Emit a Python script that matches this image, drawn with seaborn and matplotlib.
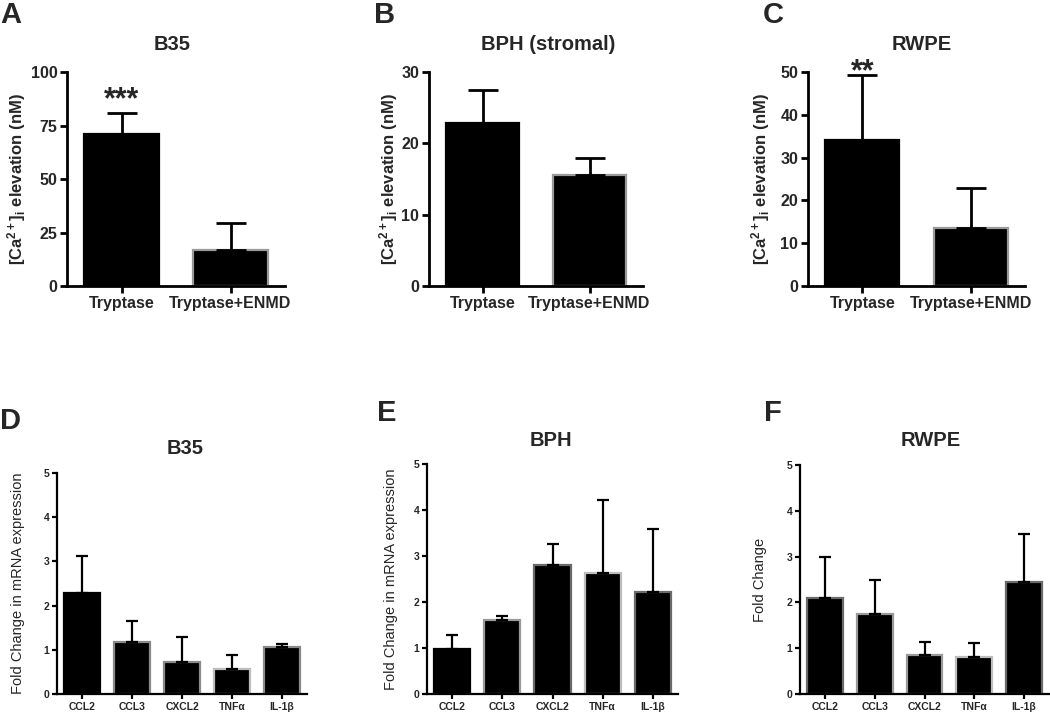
import matplotlib
matplotlib.use("Agg")
import matplotlib.pyplot as plt
import seaborn as sns
import pandas as pd

# ---------------- data ----------------
ca_groups = ["Tryptase", "Tryptase+ENMD"]
ca_b35_mean = [71.0, 17.0]
ca_b35_sem = [10.0, 12.5]
ca_bph_mean = [22.8, 15.5]
ca_bph_sem = [4.7, 2.4]
ca_rwpe_mean = [34.0, 13.5]
ca_rwpe_sem = [15.2, 9.3]

genes = ["CCL2", "CCL3", "CXCL2", "TNFα", "IL-1β"]
fc_b35_mean = [2.28, 1.17, 0.72, 0.57, 1.06]
fc_b35_sem = [0.85, 0.48, 0.56, 0.31, 0.07]
fc_bph_mean = [0.97, 1.60, 2.80, 2.62, 2.22]
fc_bph_sem = [0.31, 0.10, 0.47, 1.60, 1.36]
fc_rwpe_mean = [2.10, 1.75, 0.85, 0.80, 2.45]
fc_rwpe_sem = [0.89, 0.75, 0.28, 0.32, 1.05]

sns.set_theme(style="ticks")
plt.rcParams["font.family"] = ["Liberation Sans", "DejaVu Sans"]
plt.rcParams["font.weight"] = "bold"
plt.rcParams["mathtext.fontset"] = "custom"
plt.rcParams["mathtext.rm"] = "Liberation Sans:bold"
plt.rcParams["mathtext.it"] = "Liberation Sans:bold"
plt.rcParams["mathtext.bf"] = "Liberation Sans:bold"
plt.rcParams["mathtext.default"] = "bf"

W, H = 1050, 717
fig = plt.figure(figsize=(W / 100, H / 100), dpi=100)


def px_axes(l, t, r, b):
    return fig.add_axes([l / W, 1 - b / H, (r - l) / W, (b - t) / H])


def draw(ax, cats, mean, sem, ylim, yticks, width, tick_fs, capsize, lw,
         edgecolors, ylabel, ylab_fs, ylab_weight, ylab_x):
    df = pd.DataFrame({"cat": cats, "val": mean})
    sns.barplot(data=df, x="cat", y="val", order=cats, color="black",
                width=width, errorbar=None, ax=ax, saturation=1)
    for p, ec in zip(ax.patches, edgecolors):
        p.set_facecolor("black")
        p.set_edgecolor(ec)
        p.set_linewidth(1.6)
    ax.errorbar(range(len(cats)), mean, yerr=[[0] * len(cats), sem],
                fmt="none", ecolor="black", elinewidth=lw, capsize=capsize,
                capthick=lw, zorder=1)
    ax.set_ylim(*ylim)
    ax.set_xlim(-0.5, len(cats) - 0.5)
    ax.set_yticks(yticks)
    ax.set_yticklabels([str(v) for v in yticks], fontsize=tick_fs, fontweight="bold")
    ax.set_xticks(range(len(cats)))
    ax.set_xticklabels(cats, fontsize=tick_fs, fontweight="bold")
    ax.set_xlabel("")
    ax.set_ylabel(ylabel, fontsize=ylab_fs, fontweight=ylab_weight)
    ax.yaxis.set_label_coords(ylab_x, 0.5)
    sns.despine(ax=ax)
    for s in ["left", "bottom"]:
        ax.spines[s].set_linewidth(lw)
        ax.spines[s].set_color("black")
    ax.tick_params(axis="both", width=lw, length=5 if tick_fs > 9 else 3.5,
                   color="black", pad=2)


ca_label = r"[Ca$^{2+}$]$_{i}$ elevation (nM)"
ec2 = ["black", "#9a9a9a"]

axA = px_axes(67, 72, 285, 286)
draw(axA, ca_groups, ca_b35_mean, ca_b35_sem, (0, 100), [0, 25, 50, 75, 100],
     0.68, 11.5, 11, 2.0, ec2, ca_label, 12, "bold", -0.18)
axB = px_axes(429, 72, 643, 286)
draw(axB, ca_groups, ca_bph_mean, ca_bph_sem, (0, 30), [0, 10, 20, 30],
     0.68, 11.5, 11, 2.0, ec2, ca_label, 12, "bold", -0.135)
axC = px_axes(808, 72, 1025, 286)
draw(axC, ca_groups, ca_rwpe_mean, ca_rwpe_sem, (0, 50), [0, 10, 20, 30, 40, 50],
     0.68, 11.5, 11, 2.0, ec2, ca_label, 12, "bold", -0.166)

axA.text(0, 87, "***", ha="center", va="center", fontsize=22, fontweight="bold", clip_on=False)
axC.text(0, 50, "**", ha="center", va="center", fontsize=22, fontweight="bold", clip_on=False)

ec5a = ["black", "#8a8a8a", "#8a8a8a", "#bdbdbd", "#8a8a8a"]
ec5b = ["black", "#9a9a9a", "#6a6a6a", "#bdbdbd", "#6a6a6a"]
ec5c = ["#6a6a6a", "#9a9a9a", "#9a9a9a", "#bdbdbd", "#6a6a6a"]
fc_label = "Fold Change in mRNA expression"

axD = px_axes(57, 473, 307, 694)
draw(axD, genes, fc_b35_mean, fc_b35_sem, (0, 5), [0, 1, 2, 3, 4, 5],
     0.72, 7.5, 4, 1.6, ec5a, fc_label, 10.5, "normal", -0.128)
axE = px_axes(427, 464, 678, 694)
draw(axE, genes, fc_bph_mean, fc_bph_sem, (0, 5), [0, 1, 2, 3, 4, 5],
     0.72, 7.5, 4, 1.6, ec5b, fc_label, 10.5, "normal", -0.116)
axF = px_axes(800, 465, 1049, 694)
draw(axF, genes, fc_rwpe_mean, fc_rwpe_sem, (0, 5), [0, 1, 2, 3, 4, 5],
     0.72, 7.5, 4, 1.6, ec5c, "Fold Change", 10.5, "normal", -0.132)


def ftext(x, y, s, fs, **kw):
    fig.text(x / W, 1 - y / H, s, fontsize=fs, fontweight="bold",
             ha=kw.pop("ha", "center"), va=kw.pop("va", "center"), **kw)


# titles
ftext(172, 44, "B35", 14.5)
ftext(548, 44, "BPH (stromal)", 14.5)
ftext(922, 44, "RWPE", 14.5)
ftext(185, 449, "B35", 14.5)
ftext(551, 440, "BPH", 14.5)
ftext(931, 440, "RWPE", 14.5)
# panel letters
ftext(0, 15, "A", 21, ha="left")
ftext(374, 15, "B", 21, ha="left")
ftext(763, 15, "C", 21, ha="left")
ftext(0, 421, "D", 21, ha="left")
ftext(377, 413, "E", 21, ha="left")
ftext(764, 413, "F", 21, ha="left")

fig.savefig("out.png", dpi=100)
